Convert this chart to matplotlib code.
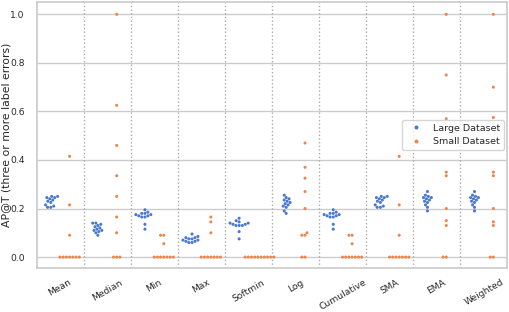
import matplotlib
matplotlib.use("Agg")
import matplotlib.pyplot as plt
import numpy as np
import pandas as pd
import seaborn as sns

methods = ["Mean", "Median", "Min", "Max", "Softmin", "Log",
           "Cumulative", "SMA", "EMA", "Weighted"]

# AP@T values per method
large = {
    "Mean":       [0.25, 0.25, 0.245, 0.245, 0.24, 0.235, 0.23, 0.225, 0.215, 0.21, 0.205, 0.205],
    "Median":     [0.14, 0.14, 0.135, 0.13, 0.125, 0.12, 0.115, 0.11, 0.11, 0.105, 0.1, 0.09],
    "Min":        [0.195, 0.185, 0.18, 0.18, 0.175, 0.175, 0.17, 0.17, 0.165, 0.165, 0.135, 0.115],
    "Max":        [0.095, 0.085, 0.08, 0.08, 0.075, 0.075, 0.07, 0.07, 0.065, 0.065, 0.06, 0.06],
    "Softmin":    [0.16, 0.15, 0.145, 0.14, 0.14, 0.135, 0.135, 0.13, 0.13, 0.13, 0.105, 0.075],
    "Log":        [0.255, 0.245, 0.24, 0.235, 0.23, 0.225, 0.22, 0.215, 0.21, 0.205, 0.19, 0.18],
    "Cumulative": [0.195, 0.185, 0.18, 0.18, 0.175, 0.175, 0.17, 0.17, 0.165, 0.165, 0.135, 0.115],
    "SMA":        [0.25, 0.25, 0.245, 0.245, 0.24, 0.235, 0.23, 0.225, 0.215, 0.21, 0.205, 0.205],
    "EMA":        [0.27, 0.255, 0.25, 0.245, 0.245, 0.24, 0.235, 0.23, 0.225, 0.215, 0.205, 0.19],
    "Weighted":   [0.27, 0.255, 0.25, 0.245, 0.245, 0.24, 0.235, 0.23, 0.225, 0.215, 0.205, 0.19],
}
small = {
    "Mean":       [0, 0, 0, 0, 0, 0, 0, 0.09, 0.215, 0.415],
    "Median":     [0, 0, 0, 0.1, 0.165, 0.25, 0.335, 0.46, 0.625, 1.0],
    "Min":        [0, 0, 0, 0, 0, 0, 0, 0.055, 0.09, 0.09],
    "Max":        [0, 0, 0, 0, 0, 0, 0, 0.1, 0.145, 0.165],
    "Softmin":    [0, 0, 0, 0, 0, 0, 0, 0, 0, 0],
    "Log":        [0, 0, 0.09, 0.09, 0.1, 0.2, 0.27, 0.325, 0.37, 0.47],
    "Cumulative": [0, 0, 0, 0, 0, 0, 0, 0.055, 0.09, 0.09],
    "SMA":        [0, 0, 0, 0, 0, 0, 0, 0.09, 0.215, 0.415],
    "EMA":        [0, 0, 0.13, 0.15, 0.2, 0.335, 0.35, 0.57, 0.75, 1.0],
    "Weighted":   [0, 0, 0.13, 0.145, 0.2, 0.335, 0.35, 0.575, 0.7, 1.0],
}

rows = []
for m in methods:
    for v in large[m]:
        rows.append((m, v, "Large Dataset"))
    for v in small[m]:
        rows.append((m, v, "Small Dataset"))
df = pd.DataFrame(rows, columns=["method", "ap", "dataset"])

sns.set_theme(style="whitegrid")
fig, ax = plt.subplots(figsize=(5.09, 3.12), dpi=100)

sns.swarmplot(data=df, x="method", y="ap", hue="dataset", order=methods,
              dodge=True, palette="muted", size=2.2, ax=ax)

# dotted separators between methods
for i in range(len(methods) - 1):
    ax.axvline(i + 0.5, color="#aaaaaa", linestyle=":", linewidth=1)

ax.set_xlim(-0.5, len(methods) - 0.5)
ax.set_ylim(-0.045, 1.05)
ax.set_xlabel("")
ax.set_ylabel("AP@T (three or more label errors)", fontsize=7.8)
ax.tick_params(axis="y", labelsize=6.6, pad=2.5)
ax.tick_params(axis="x", labelsize=6.6, pad=1)
plt.setp(ax.get_xticklabels(), rotation=30)
ax.legend(loc="center right", fontsize=6.8, bbox_to_anchor=(1.0, 0.5),
          markerscale=1.3, borderaxespad=0.4)

fig.subplots_adjust(left=0.072, right=0.997, top=0.993, bottom=0.141)

# put the y label just left of the tick labels
fig.canvas.draw()
r = fig.canvas.get_renderer()
tick_x0 = min(t.get_window_extent(r).x0 for t in ax.get_yticklabels() if t.get_text())
lab_w = ax.yaxis.label.get_window_extent(r).width
right = max(tick_x0 - 2, lab_w + 1)
ax.yaxis.set_label_coords(ax.transAxes.inverted().transform((right, 0))[0], 0.5)

fig.savefig("out.png", dpi=100)
